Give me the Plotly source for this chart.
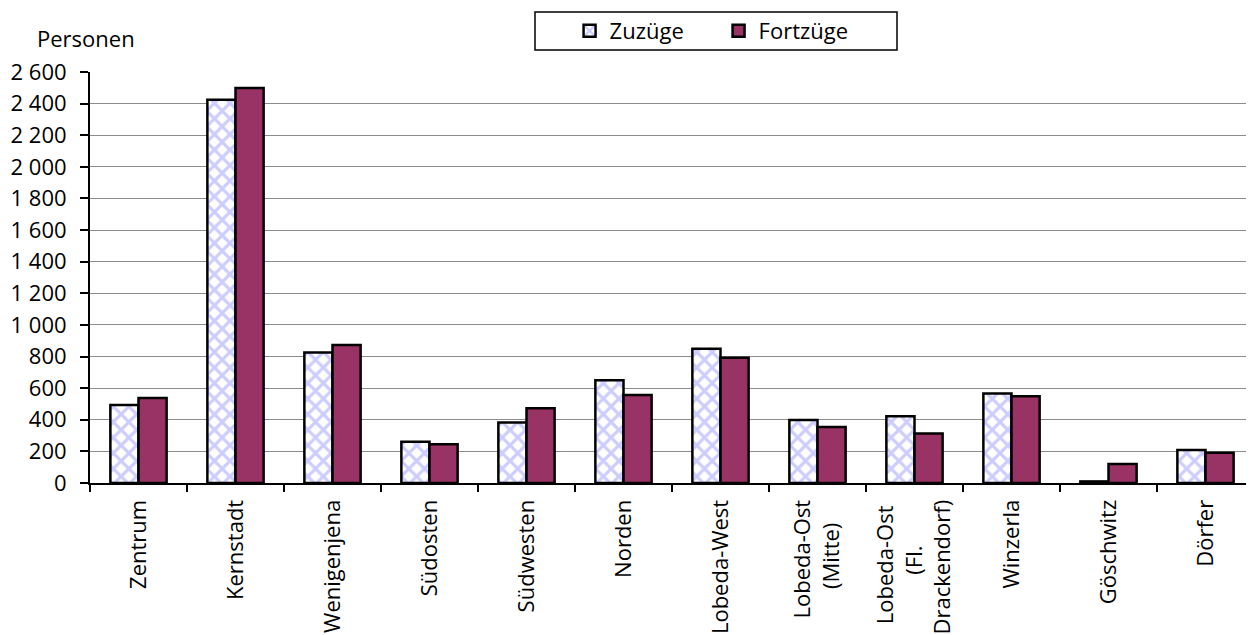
import plotly.graph_objects as go

categories = ["Zentrum", "Kernstadt", "Wenigenjena", "Südosten", "Südwesten", "Norden",
              "Lobeda-West", "Lobeda-Ost (Mitte)", "Lobeda-Ost (Fl. Drackendorf)",
              "Winzerla", "Göschwitz", "Dörfer"]
zuzuege = [494, 2424, 826, 261, 382, 650, 850, 399, 422, 566, 10, 209]
fortzuege = [538, 2498, 873, 245, 473, 557, 793, 354, 313, 549, 120, 192]
y_ticks = [0, 200, 400, 600, 800, 1000, 1200, 1400, 1600, 1800, 2000, 2200, 2400, 2600]

# Multi-line labels (lines padded so they appear centred like the original)
NB = "\u00a0"
label_text = {
    "Lobeda-Ost (Mitte)": "Lobeda-Ost<br>(Mitte)" + NB * 4,
    "Lobeda-Ost (Fl. Drackendorf)": "Lobeda-Ost" + NB * 1 + "<br>(Fl." + NB * 8 + "<br>Drackendorf)",
}
tick_text = [label_text.get(c, c) for c in categories]

FONT = "Open Sans"
FS = 22
# page body has an 8px margin; plot area should sit at x 90..1254, y 72..483 on the page
OFF = 8

fig = go.Figure()
fig.add_trace(go.Bar(
    x=categories, y=zuzuege, name="Zuzüge",
    marker=dict(color="white", line=dict(color="black", width=2.5),
                pattern=dict(shape="x", fgcolor="#9999ff", bgcolor="white", size=11, solidity=0.5)),
))
fig.add_trace(go.Bar(
    x=categories, y=fortzuege, name="Fortzüge",
    marker=dict(color="#993366", line=dict(color="black", width=2.5)),
))

fig.update_layout(
    width=1254, height=635,
    margin=dict(l=90 - OFF, r=OFF, t=72 - OFF, b=635 - 483 + OFF, autoexpand=False),
    paper_bgcolor="white", plot_bgcolor="white",
    font=dict(family=FONT, size=FS, color="black"),
    separators=", ",
    barmode="group", bargap=0.42, bargroupgap=0,
    showlegend=True,
    legend=dict(orientation="h", x=0.412, xanchor="left", y=1.0998, yanchor="middle",
                borderwidth=0, bgcolor="rgba(0,0,0,0)",
                font=dict(size=FS), itemwidth=30, entrywidth=104, entrywidthmode="pixels"),
    shapes=[dict(type="rect", xref="paper", yref="paper",
                 x0=(535 - 90) / 1164, x1=(897 - 90) / 1164,
                 y0=(483 - 50) / 411, y1=(483 - 12) / 411,
                 line=dict(color="black", width=1.5), fillcolor="rgba(0,0,0,0)", layer="below")],
    annotations=[dict(text="Personen", x=-0.0473, y=1.083, xref="paper", yref="paper",
                      xanchor="left", yanchor="middle", showarrow=False,
                      font=dict(size=FS))],
)
fig.update_yaxes(range=[0, 2600], tickvals=y_ticks, separatethousands=True,
                 showgrid=True, gridcolor="#8c8c8c", gridwidth=1.3,
                 showline=True, linecolor="black", linewidth=2,
                 ticks="outside", ticklen=8, tickwidth=2, tickcolor="black",
                 ticklabelstandoff=9, automargin=False,
                 zeroline=False, fixedrange=True)
fig.update_xaxes(showline=True, linecolor="black", linewidth=2,
                 ticks="outside", tickson="boundaries", ticklen=7, tickwidth=2, tickcolor="black",
                 tickmode="array", tickvals=categories, ticktext=tick_text,
                 tickangle=-90, ticklabelstandoff=6, automargin=False, showgrid=False)

fig.write_html("out.html")
